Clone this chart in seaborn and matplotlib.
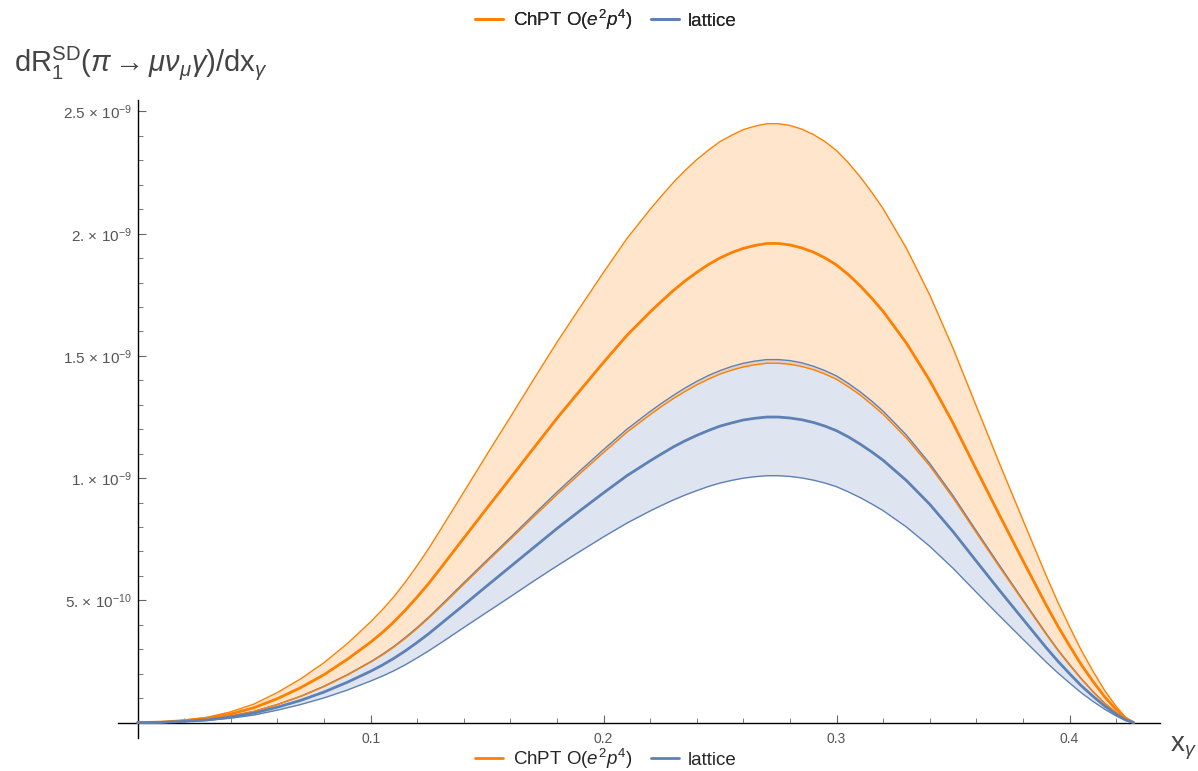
import numpy as np
import pandas as pd
import matplotlib
matplotlib.use("Agg")
import matplotlib.pyplot as plt
import seaborn as sns
from matplotlib.lines import Line2D
from matplotlib.ticker import FixedLocator, FixedFormatter, MultipleLocator

# ---------------- data (values in units of 1e-9) ----------------
x_gamma = [0.0, 0.01, 0.02, 0.03, 0.04, 0.05, 0.06, 0.07, 0.08, 0.09, 0.10, 0.105, 0.11, 0.115,
           0.12, 0.125, 0.13, 0.14, 0.15, 0.16, 0.17, 0.18, 0.19, 0.20, 0.21, 0.22, 0.225, 0.23,
           0.235, 0.24, 0.245, 0.25, 0.255, 0.26, 0.265, 0.27, 0.275, 0.28, 0.285, 0.29, 0.295,
           0.30, 0.305, 0.31, 0.315, 0.32, 0.33, 0.34, 0.35, 0.36, 0.37, 0.38, 0.39, 0.395, 0.40,
           0.405, 0.41, 0.415, 0.42, 0.424, 0.4275]

chpt_upper = [0, 0.002, 0.010, 0.022, 0.044, 0.076, 0.123, 0.179, 0.245, 0.323, 0.412, 0.461,
              0.515, 0.576, 0.642, 0.713, 0.789, 0.943, 1.098, 1.250, 1.404, 1.556, 1.700, 1.842,
              1.980, 2.100, 2.156, 2.210, 2.259, 2.303, 2.342, 2.377, 2.403, 2.426, 2.440, 2.450,
              2.450, 2.443, 2.428, 2.406, 2.377, 2.340, 2.291, 2.234, 2.171, 2.102, 1.940, 1.749,
              1.531, 1.294, 1.058, 0.828, 0.600, 0.492, 0.392, 0.296, 0.211, 0.132, 0.066, 0.022, 0]
chpt_central = [0, 0.002, 0.008, 0.018, 0.035, 0.061, 0.098, 0.143, 0.196, 0.259, 0.329, 0.368,
                0.412, 0.461, 0.514, 0.570, 0.631, 0.755, 0.878, 1.000, 1.123, 1.245, 1.360, 1.474,
                1.584, 1.680, 1.725, 1.768, 1.807, 1.842, 1.874, 1.901, 1.923, 1.940, 1.952, 1.960,
                1.960, 1.954, 1.942, 1.925, 1.901, 1.872, 1.833, 1.788, 1.737, 1.682, 1.552, 1.399,
                1.225, 1.035, 0.847, 0.662, 0.480, 0.394, 0.314, 0.237, 0.169, 0.106, 0.053, 0.018, 0]
chpt_lower = [0, 0.001, 0.006, 0.013, 0.026, 0.046, 0.074, 0.107, 0.147, 0.194, 0.247, 0.276,
              0.309, 0.345, 0.385, 0.428, 0.473, 0.566, 0.659, 0.750, 0.842, 0.933, 1.020, 1.105,
              1.188, 1.260, 1.294, 1.326, 1.355, 1.382, 1.405, 1.426, 1.442, 1.455, 1.464, 1.470,
              1.470, 1.466, 1.457, 1.444, 1.426, 1.404, 1.374, 1.341, 1.302, 1.261, 1.164, 1.050,
              0.919, 0.776, 0.635, 0.497, 0.360, 0.295, 0.235, 0.178, 0.126, 0.079, 0.040, 0.013, 0]
lat_upper = [0, 0.001, 0.006, 0.013, 0.027, 0.046, 0.074, 0.108, 0.149, 0.196, 0.249, 0.279,
             0.312, 0.349, 0.389, 0.432, 0.478, 0.572, 0.665, 0.757, 0.851, 0.943, 1.031, 1.117,
             1.200, 1.273, 1.307, 1.339, 1.369, 1.396, 1.420, 1.440, 1.457, 1.470, 1.479, 1.485,
             1.485, 1.481, 1.472, 1.458, 1.440, 1.418, 1.388, 1.354, 1.316, 1.274, 1.176, 1.060,
             0.928, 0.784, 0.642, 0.502, 0.364, 0.298, 0.238, 0.180, 0.128, 0.080, 0.040, 0.013, 0]
lat_central = [0, 0.001, 0.005, 0.011, 0.023, 0.039, 0.063, 0.091, 0.125, 0.165, 0.210, 0.235,
               0.263, 0.294, 0.328, 0.364, 0.403, 0.481, 0.560, 0.638, 0.716, 0.794, 0.868, 0.940,
               1.010, 1.071, 1.100, 1.128, 1.153, 1.175, 1.195, 1.213, 1.226, 1.238, 1.245, 1.250,
               1.250, 1.246, 1.239, 1.228, 1.213, 1.194, 1.169, 1.140, 1.108, 1.073, 0.990, 0.893,
               0.781, 0.660, 0.540, 0.423, 0.306, 0.251, 0.200, 0.151, 0.108, 0.068, 0.034, 0.011, 0]
lat_lower = [0, 0.001, 0.004, 0.009, 0.018, 0.031, 0.051, 0.074, 0.101, 0.133, 0.170, 0.190,
             0.212, 0.237, 0.265, 0.294, 0.325, 0.389, 0.452, 0.515, 0.579, 0.641, 0.701, 0.760,
             0.816, 0.866, 0.889, 0.911, 0.931, 0.949, 0.966, 0.980, 0.991, 1.000, 1.006, 1.010,
             1.010, 1.007, 1.001, 0.992, 0.980, 0.965, 0.944, 0.921, 0.895, 0.867, 0.800, 0.721,
             0.631, 0.533, 0.436, 0.341, 0.247, 0.203, 0.162, 0.122, 0.087, 0.055, 0.027, 0.009, 0]

for arr in [chpt_upper, chpt_central, chpt_lower, lat_upper, lat_central, lat_lower]:
    assert len(arr) == len(x_gamma), (len(arr), len(x_gamma))

series_names = ["ChPT O($e^2p^4$)", "lattice"]
x_ticks = [0.1, 0.2, 0.3, 0.4]
x_ticklabels = ["0.1", "0.2", "0.3", "0.4"]
y_ticks = [0.5, 1.0, 1.5, 2.0, 2.5]  # units of 1e-9
y_ticklabels = ["5. × 10$^{-10}$", "1. × 10$^{-9}$", "1.5 × 10$^{-9}$",
                "2. × 10$^{-9}$", "2.5 × 10$^{-9}$"]

SCALE = 1e-9
ORANGE = "#FF8000"
BLUE = "#5E81B5"

# ---------------- style ----------------
sns.set_style("white")
plt.rcParams["font.family"] = ["Liberation Sans", "DejaVu Sans"]
plt.rcParams["mathtext.fontset"] = "custom"
plt.rcParams["mathtext.rm"] = "Liberation Sans"
plt.rcParams["mathtext.it"] = "Liberation Sans:italic"
plt.rcParams["mathtext.bf"] = "Liberation Sans:bold"

fig = plt.figure(figsize=(11.98, 7.71), dpi=100)
ax = fig.add_axes([118 / 1198, 1 - 738 / 771, (1160 - 118) / 1198, (738 - 100) / 771])

x = np.array(x_gamma)
df = pd.DataFrame({
    "x": np.concatenate([x, x]),
    "y": np.concatenate([np.array(chpt_central), np.array(lat_central)]) * SCALE,
    "model": [series_names[0]] * len(x) + [series_names[1]] * len(x),
})

# bands
ax.fill_between(x, np.array(lat_lower) * SCALE, np.array(lat_upper) * SCALE,
                color=BLUE, alpha=0.2, linewidth=0, zorder=1)
ax.fill_between(x, np.array(chpt_lower) * SCALE, np.array(chpt_upper) * SCALE,
                color=ORANGE, alpha=0.2, linewidth=0, zorder=1)

# band edges
for arr, col in [(lat_upper, BLUE), (lat_lower, BLUE), (chpt_upper, ORANGE), (chpt_lower, ORANGE)]:
    sns.lineplot(x=x, y=np.array(arr) * SCALE, color=col, linewidth=1.0, ax=ax, zorder=3)

# central lines
sns.lineplot(data=df, x="x", y="y", hue="model", palette=[ORANGE, BLUE],
             linewidth=2.0, ax=ax, legend=False, zorder=4, sort=False)

# axes
ax.set_xlim(-0.0084, 0.4388)
ax.set_ylim(-0.063e-9, 2.547e-9)
ax.spines["top"].set_visible(False)
ax.spines["right"].set_visible(False)
ax.spines["left"].set_position(("data", 0))
ax.spines["bottom"].set_position(("data", 0))
for s in ["left", "bottom"]:
    ax.spines[s].set_color("black")
    ax.spines[s].set_linewidth(1.0)

ax.xaxis.set_major_locator(FixedLocator(x_ticks))
ax.xaxis.set_major_formatter(FixedFormatter(x_ticklabels))
ax.xaxis.set_minor_locator(MultipleLocator(0.02))
ax.yaxis.set_major_locator(FixedLocator([v * SCALE for v in y_ticks]))
ax.yaxis.set_major_formatter(FixedFormatter(y_ticklabels))
ax.yaxis.set_minor_locator(MultipleLocator(0.1e-9))
ax.tick_params(which="both", direction="in", bottom=True, left=True, top=False, right=False,
               color="#666666", labelcolor="#555555")
ax.tick_params(axis="y", labelsize=11)
ax.tick_params(axis="x", labelsize=10)
ax.tick_params(which="major", length=6, width=0.8)
ax.tick_params(which="minor", length=3.5, width=0.6)
ax.tick_params(axis="x", which="major", pad=7)
ax.tick_params(axis="y", which="major", pad=4)
ax.set_xlabel("")
ax.set_ylabel("")

# axis titles
fig.text(14 / 1198, 1 - 63 / 771,
         r"$\mathrm{dR}_1^{\mathrm{SD}}(\pi \rightarrow \mu\nu_\mu\gamma)/\mathrm{dx}_\gamma$",
         fontsize=21, color="#444444", va="center", ha="left")
fig.text(1170 / 1198, 1 - 748 / 771, r"$\mathrm{x}_\gamma$", fontsize=20, color="#444444",
         va="center", ha="left")

# legends (top and bottom)
handles = [Line2D([0], [0], color=ORANGE, lw=2), Line2D([0], [0], color=BLUE, lw=2)]
leg_kw = dict(loc="center", ncol=2, frameon=False, fontsize=13.5, handlelength=1.5,
              columnspacing=1.0, handletextpad=0.5)
leg_top = fig.legend(handles, series_names, bbox_to_anchor=(606 / 1198, 1 - 20 / 771), **leg_kw)
fig.add_artist(leg_top)
fig.legend(handles, series_names, bbox_to_anchor=(606 / 1198, 1 - 759 / 771), **leg_kw)

fig.savefig("out.png", dpi=100)
